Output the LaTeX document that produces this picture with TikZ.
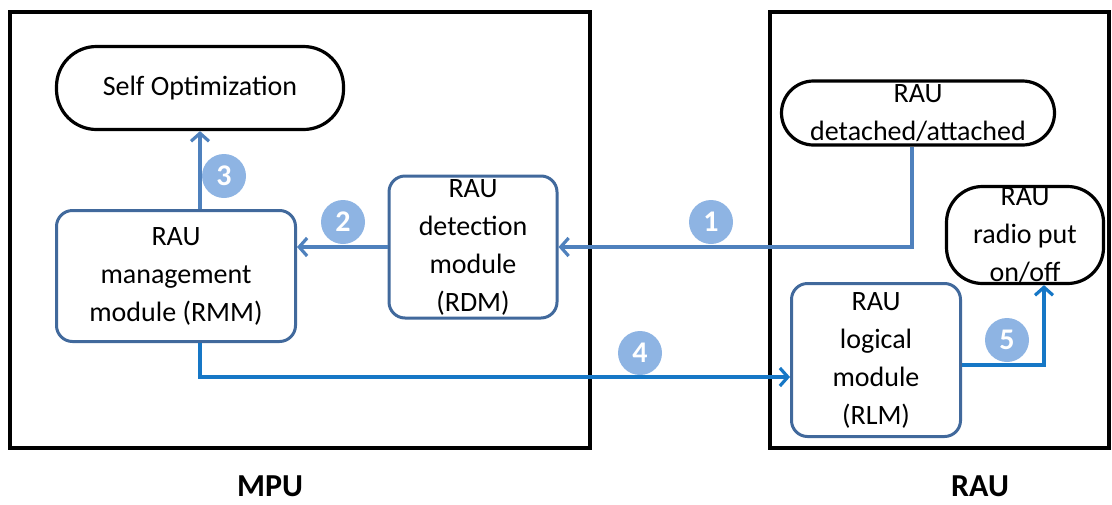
\documentclass[tikz,border=0pt]{standalone}
\usepackage{fontspec}
\setmainfont{Carlito}
\usepackage{xcolor}
\usepackage{tikz}
\usetikzlibrary{arrows.meta,calc,positioning}
\definecolor{boxline}{HTML}{41699C}
\definecolor{flowa}{HTML}{4F81BD}
\definecolor{flowb}{HTML}{1677C6}
\definecolor{badge}{HTML}{8EB4E3}
\tikzset{
  frame/.style={black, line width=2pt},
  oval/.style={draw=black, line width=1.6pt, rectangle, align=center, inner sep=0pt},
  module/.style={draw=boxline, line width=1.5pt, rectangle, rounded corners=8pt, align=center, inner sep=0pt},
  flow/.style={flowa, line width=1.6pt, -{Straight Barb[length=4pt,width=9pt,line width=1.6pt]}},
  flowdark/.style={flowb, line width=1.6pt, -{Straight Barb[length=4pt,width=9pt,line width=1.6pt]}},
  numbadge/.style={circle, fill=badge, text=white, minimum size=22pt, inner sep=0pt, font=\fontsize{15}{15}\selectfont\bfseries}
}

\begin{document}
\begin{tikzpicture}[x=0.5pt, y=-0.5pt, every node/.style={font=\fontsize{14}{19}\selectfont}]
    \useasboundingbox (0,0) rectangle (1112,504);

    % Frames
    \draw[frame] (10,12) rectangle (590,448);
    \draw[frame] (770,12) rectangle (1109,448);
    \node[font=\fontsize{16}{16}\selectfont\bfseries] (mpulabel) at (270,486) {MPU};
    \node[font=\fontsize{16}{16}\selectfont\bfseries] (raulabel) at (980,486) {RAU};

    % Nodes
    \node[oval, rounded corners=20pt, minimum width=143.5pt, minimum height=41.5pt] (selfopt) at (200,88) {Self Optimization};
    \node[module, minimum width=119.5pt, minimum height=65.5pt] (rmm) at (176,276) {RAU\\management\\module (RMM)};
    \node[module, minimum width=84pt, minimum height=71pt] (rdm) at (473,247) {RAU\\detection\\module\\(RDM)};
    \node[oval, rounded corners=16pt, minimum width=136.5pt, minimum height=32pt] (detatt) at (918,113) {RAU\\detached/attached};
    \node[oval, rounded corners=18pt, minimum width=78.5pt, minimum height=48.5pt] (radio) at (1025,235) {RAU\\radio put\\on/off};
    \node[module, minimum width=84.5pt, minimum height=76.5pt] (rlm) at (876,360) {RAU\\logical\\module\\(RLM)};

    % Connectors
    \draw[flow] ([xshift=-3pt]detatt.south) |- (rdm.east);
    \draw[flow] (rdm.west) -- (rdm.west -| rmm.east);
    \draw[flow] (rmm.north -| selfopt.south) -- (selfopt.south);
    \draw[flowdark] (rmm.south -| selfopt.south) |- ([yshift=-8.5pt]rlm.west);
    \draw[flowdark] ([yshift=-2.5pt]rlm.east) -| ([xshift=9.5pt]radio.south);

    % Steps
    \node[numbadge] (b1) at (711,222) {1};
    \node[numbadge] (b2) at (343,222) {2};
    \node[numbadge] (b3) at (224,176) {3};
    \node[numbadge] (b4) at (640,353) {4};
    \node[numbadge] (b5) at (1007,340) {5};
\end{tikzpicture}
\end{document}
